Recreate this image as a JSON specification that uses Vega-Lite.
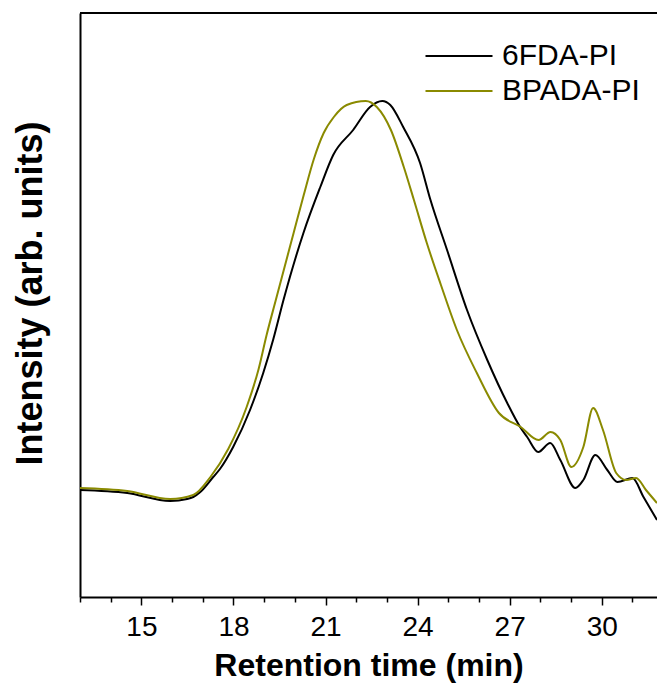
{
  "$schema": "https://vega.github.io/schema/vega-lite/v6.json",
  "width": 577,
  "height": 584,
  "autosize": "none",
  "padding": {"left": 80, "top": 13, "right": 0, "bottom": 89},
  "config": {
    "view": {"stroke": null},
    "font": "Liberation Sans"
  },
  "datasets": {
    "curves": [
      {"t": 13.0, "v": 107, "s": "6FDA-PI"},
      {"t": 14.54, "v": 104, "s": "6FDA-PI"},
      {"t": 15.94, "v": 96, "s": "6FDA-PI"},
      {"t": 16.49, "v": 98, "s": "6FDA-PI"},
      {"t": 16.69, "v": 100, "s": "6FDA-PI"},
      {"t": 16.92, "v": 105, "s": "6FDA-PI"},
      {"t": 17.34, "v": 120, "s": "6FDA-PI"},
      {"t": 17.56, "v": 128, "s": "6FDA-PI"},
      {"t": 17.99, "v": 150, "s": "6FDA-PI"},
      {"t": 18.54, "v": 187, "s": "6FDA-PI"},
      {"t": 18.97, "v": 224, "s": "6FDA-PI"},
      {"t": 19.30, "v": 258, "s": "6FDA-PI"},
      {"t": 19.63, "v": 297, "s": "6FDA-PI"},
      {"t": 20.28, "v": 364, "s": "6FDA-PI"},
      {"t": 20.83, "v": 410, "s": "6FDA-PI"},
      {"t": 21.25, "v": 442, "s": "6FDA-PI"},
      {"t": 21.90, "v": 467, "s": "6FDA-PI"},
      {"t": 22.45, "v": 490, "s": "6FDA-PI"},
      {"t": 22.85, "v": 496, "s": "6FDA-PI"},
      {"t": 23.11, "v": 492, "s": "6FDA-PI"},
      {"t": 23.53, "v": 470, "s": "6FDA-PI"},
      {"t": 24.08, "v": 434, "s": "6FDA-PI"},
      {"t": 24.41, "v": 398, "s": "6FDA-PI"},
      {"t": 24.96, "v": 347, "s": "6FDA-PI"},
      {"t": 25.61, "v": 287, "s": "6FDA-PI"},
      {"t": 26.27, "v": 237, "s": "6FDA-PI"},
      {"t": 26.92, "v": 194, "s": "6FDA-PI"},
      {"t": 27.34, "v": 170, "s": "6FDA-PI"},
      {"t": 27.57, "v": 160, "s": "6FDA-PI"},
      {"t": 27.93, "v": 145, "s": "6FDA-PI"},
      {"t": 28.32, "v": 154, "s": "6FDA-PI"},
      {"t": 28.65, "v": 137, "s": "6FDA-PI"},
      {"t": 29.14, "v": 109, "s": "6FDA-PI"},
      {"t": 29.40, "v": 117, "s": "6FDA-PI"},
      {"t": 29.79, "v": 142, "s": "6FDA-PI"},
      {"t": 30.18, "v": 127, "s": "6FDA-PI"},
      {"t": 30.51, "v": 115, "s": "6FDA-PI"},
      {"t": 31.00, "v": 119, "s": "6FDA-PI"},
      {"t": 31.36, "v": 100, "s": "6FDA-PI"},
      {"t": 31.80, "v": 77, "s": "6FDA-PI"},
      {"t": 13.0, "v": 109, "s": "BPADA-PI"},
      {"t": 14.54, "v": 106, "s": "BPADA-PI"},
      {"t": 15.94, "v": 98, "s": "BPADA-PI"},
      {"t": 16.69, "v": 102, "s": "BPADA-PI"},
      {"t": 17.25, "v": 120, "s": "BPADA-PI"},
      {"t": 17.83, "v": 148, "s": "BPADA-PI"},
      {"t": 18.43, "v": 190, "s": "BPADA-PI"},
      {"t": 18.82, "v": 228, "s": "BPADA-PI"},
      {"t": 19.08, "v": 262, "s": "BPADA-PI"},
      {"t": 19.38, "v": 297, "s": "BPADA-PI"},
      {"t": 19.96, "v": 364, "s": "BPADA-PI"},
      {"t": 20.29, "v": 402, "s": "BPADA-PI"},
      {"t": 20.62, "v": 438, "s": "BPADA-PI"},
      {"t": 20.94, "v": 464, "s": "BPADA-PI"},
      {"t": 21.27, "v": 480, "s": "BPADA-PI"},
      {"t": 21.69, "v": 492, "s": "BPADA-PI"},
      {"t": 22.31, "v": 496, "s": "BPADA-PI"},
      {"t": 22.67, "v": 490, "s": "BPADA-PI"},
      {"t": 23.13, "v": 467, "s": "BPADA-PI"},
      {"t": 23.55, "v": 430, "s": "BPADA-PI"},
      {"t": 23.88, "v": 397, "s": "BPADA-PI"},
      {"t": 24.30, "v": 354, "s": "BPADA-PI"},
      {"t": 24.76, "v": 312, "s": "BPADA-PI"},
      {"t": 25.28, "v": 267, "s": "BPADA-PI"},
      {"t": 25.93, "v": 224, "s": "BPADA-PI"},
      {"t": 26.65, "v": 184, "s": "BPADA-PI"},
      {"t": 27.36, "v": 170, "s": "BPADA-PI"},
      {"t": 27.94, "v": 157, "s": "BPADA-PI"},
      {"t": 28.33, "v": 165, "s": "BPADA-PI"},
      {"t": 28.65, "v": 157, "s": "BPADA-PI"},
      {"t": 29.01, "v": 130, "s": "BPADA-PI"},
      {"t": 29.40, "v": 150, "s": "BPADA-PI"},
      {"t": 29.72, "v": 189, "s": "BPADA-PI"},
      {"t": 30.04, "v": 167, "s": "BPADA-PI"},
      {"t": 30.47, "v": 124, "s": "BPADA-PI"},
      {"t": 30.80, "v": 117, "s": "BPADA-PI"},
      {"t": 31.12, "v": 119, "s": "BPADA-PI"},
      {"t": 31.44, "v": 107, "s": "BPADA-PI"},
      {"t": 31.80, "v": 94, "s": "BPADA-PI"}
    ]
  },
  "layer": [
    {
      "data": {"name": "curves"},
      "mark": {"type": "line", "strokeWidth": 2, "interpolate": "monotone", "clip": true},
      "encoding": {
        "x": {
          "field": "t", "type": "quantitative",
          "scale": {"domain": [13, 31.8], "nice": false, "zero": false},
          "axis": {
            "title": "Retention time (min)",
            "titleFont": "Liberation Sans", "titleFontSize": 32, "titleFontWeight": "bold", "titleColor": "black",
            "titlePadding": 9,
            "values": [13,14,15,16,17,18,19,20,21,22,23,24,25,26,27,28,29,30,31],
            "labelExpr": "datum.value % 3 === 0 ? datum.label : ''",
            "labelFont": "Liberation Sans", "labelFontSize": 28, "labelColor": "black", "labelPadding": 8,
            "labelOverlap": false,
            "tickSize": {"condition": {"test": "datum.value % 3 === 0", "value": 8}, "value": 5},
            "tickColor": "black", "tickWidth": 1.5,
            "domainColor": "black", "domainWidth": 2,
            "grid": false
          }
        },
        "y": {
          "field": "v", "type": "quantitative",
          "scale": {"domain": [0, 584], "nice": false},
          "axis": {
            "title": "Intensity (arb. units)",
            "titleFont": "Liberation Sans", "titleFontSize": 36, "titleFontWeight": "bold", "titleColor": "black",
            "titlePadding": 31,
            "titleY": 280,
            "labels": false, "ticks": false, "grid": false,
            "domainColor": "black", "domainWidth": 2
          }
        },
        "color": {
          "field": "s", "type": "nominal",
          "scale": {"domain": ["6FDA-PI", "BPADA-PI"], "range": ["#000000", "#8A8A00"]},
          "legend": {
            "title": null,
            "orient": "none",
            "legendX": 364,
            "legendY": 28,
            "symbolType": "M-3.35,0H3.35",
            "symbolSize": 400,
            "symbolStrokeWidth": 2,
            "labelOffset": 28,
            "labelFont": "Liberation Sans",
            "labelFontSize": 30,
            "labelColor": "black",
            "rowPadding": 5,
            "padding": 0
          }
        }
      }
    },
    {
      "data": {"values": [{}]},
      "mark": {"type": "rule", "color": "black", "strokeWidth": 2},
      "encoding": {"y": {"datum": 584}}
    }
  ]
}
